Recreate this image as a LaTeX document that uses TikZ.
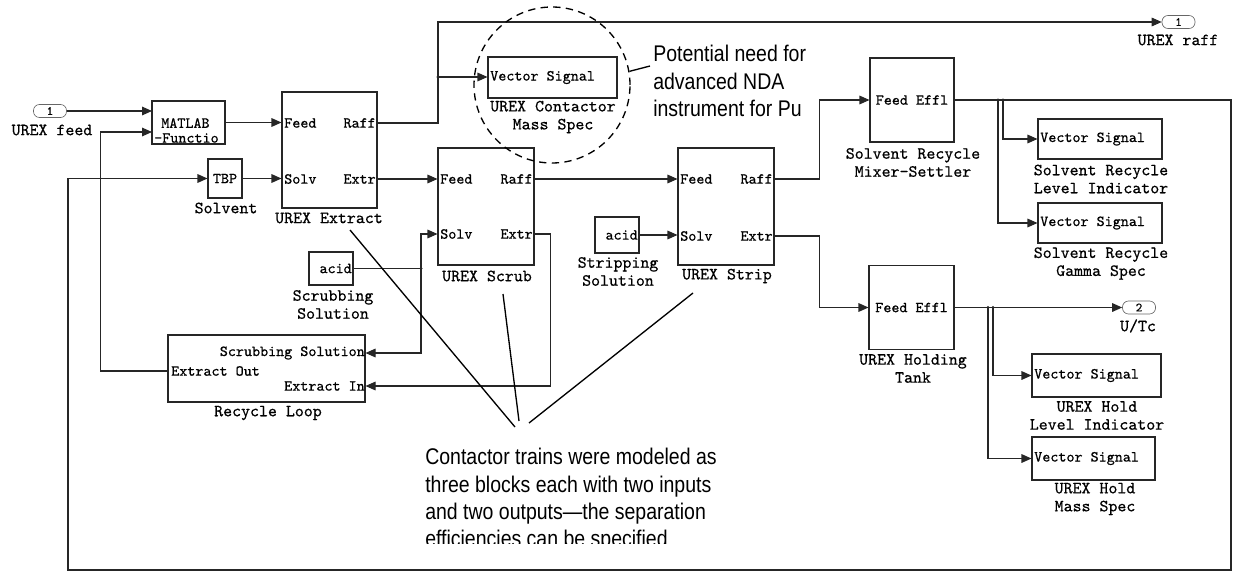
\documentclass[tikz,border=0pt]{standalone}
\usepackage{fontspec}
\newfontfamily\notefont[FakeStretch=0.86]{Liberation Sans}
\newfontfamily\blkfont{lmmono10-regular.otf}[FakeBold=0.6]
\usetikzlibrary{arrows.meta}

\tikzset{
  blk/.style={draw=black!85, line width=0.8pt, inner sep=0pt},
  bsize/.style 2 args={minimum width=#1*0.75pt, minimum height=#2*0.75pt},
  sig/.style={draw=black!85, line width=0.8pt, -{Triangle[length=7.5pt,width=6.5pt]}},
  wire/.style={draw=black!85, line width=0.8pt},
  plbl/.style={font=\blkfont\fontsize{11.5}{12}\selectfont, inner sep=0pt},
  lbl/.style={font=\blkfont\fontsize{12.8}{13.5}\selectfont, align=center, inner sep=0pt},
  ioport/.style={draw=black!60, line width=0.5pt, rounded corners=4.5pt, minimum width=24.75pt,
    minimum height=9.75pt, inner sep=0pt, font=\blkfont\fontsize{9.5}{9.5}\selectfont},
  note/.style={font=\notefont\fontsize{17}{20.5}\selectfont, align=left, inner sep=0pt},
  callout/.style={line width=1pt}
}

\begin{document}
\begin{tikzpicture}[x=0.75pt, y=-0.75pt]
\useasboundingbox (0,0) rectangle (1238,571);

        % ports
        \node[ioport] (in1)  at (50,111)     {1};
        \node[ioport] (out1) at (1178.5,22)  {1};
        \node[ioport] (out2) at (1139,307.5) {2};
        \node[lbl] (in1lbl)  at (52,130)   {UREX feed};
        \node[lbl] (out1lbl) at (1178,40)  {UREX raff};
        \node[lbl] (out2lbl) at (1138,326) {U/Tc};

        % blocks
        \node[blk, bsize={73}{43}]   (matlab) at (188.5,122.5) {};
        \node[blk, bsize={34}{39}]   (tbp)    at (225,178.5)   {};
        \node[blk, bsize={95}{116}]  (ext)    at (329.5,150)   {};
        \node[blk, bsize={96}{117}]  (scrub)  at (486,206.5)   {};
        \node[blk, bsize={44}{33}]   (acidA)  at (331,268.5)   {};
        \node[blk, bsize={197}{67}]  (recyc)  at (266.5,368.5) {};
        \node[blk, bsize={129}{41}]  (cms)    at (552.5,77.5)  {};
        \node[blk, bsize={96}{117}]  (strip)  at (726,206.5)   {};
        \node[blk, bsize={44}{36}]   (acidB)  at (617,235)     {};
        \node[blk, bsize={84}{84}]   (mixer)  at (912,100)     {};
        \node[blk, bsize={124}{40}]  (srli)   at (1100,139)    {};
        \node[blk, bsize={124}{40}]  (srgs)   at (1100,223)    {};
        \node[blk, bsize={85}{84}]   (hold)   at (911.5,307.5) {};
        \node[blk, bsize={129}{43}]  (hli)    at (1096.5,375.5) {};
        \node[blk, bsize={123}{43}]  (hms)    at (1093.5,458.5) {};

        % text inside blocks
        \node[plbl, anchor=west] (mltop) at (161,123) {MATLAB};
        \node[plbl, anchor=west] (mlbot) at (154,138) {-Functio};
        \node[plbl] (tbptxt) at (225,178.5) {TBP};
        \node[plbl, anchor=west] (extfeed)   at (284,123) {Feed};
        \node[plbl, anchor=west] (extsolv)   at (284,179) {Solv};
        \node[plbl, anchor=east] (extraff)   at (376,123) {Raff};
        \node[plbl, anchor=east] (extextr)   at (376,179) {Extr};
        \node[plbl, anchor=west] (scrubfeed) at (440,179) {Feed};
        \node[plbl, anchor=west] (scrubsolv) at (440,234) {Solv};
        \node[plbl, anchor=east] (scrubraff) at (533,179) {Raff};
        \node[plbl, anchor=east] (scrubextr) at (533,234) {Extr};
        \node[plbl, anchor=west] (stripfeed) at (680,179) {Feed};
        \node[plbl, anchor=west] (stripsolv) at (680,236) {Solv};
        \node[plbl, anchor=east] (stripraff) at (773,179) {Raff};
        \node[plbl, anchor=east] (stripextr) at (773,236) {Extr};
        \node[plbl, anchor=east] (acidAtxt)  at (352,268.5) {acid};
        \node[plbl, anchor=east] (acidBtxt)  at (638,235) {acid};
        \node[plbl, anchor=east] (rlscrub)   at (365,353) {Scrubbing Solution};
        \node[plbl, anchor=west] (rlout)     at (171,371) {Extract Out};
        \node[plbl, anchor=east] (rlin)      at (365,386) {Extract In};
        \node[plbl] (mixertxt) at (912,100)   {Feed Effl};
        \node[plbl] (holdtxt)  at (911.5,307.5) {Feed Effl};
        \node[plbl, anchor=west] (cmstxt)  at (490,77.5)  {Vector Signal};
        \node[plbl, anchor=west] (srlitxt) at (1040,139)  {Vector Signal};
        \node[plbl, anchor=west] (srgstxt) at (1040,223)  {Vector Signal};
        \node[plbl, anchor=west] (hlitxt)  at (1034,375.5) {Vector Signal};
        \node[plbl, anchor=west] (hmstxt)  at (1034,458.5) {Vector Signal};

        % block names
        \node[lbl] (tbplbl)   at (226,208)    {Solvent};
        \node[lbl] (extlbl)   at (329,218)    {UREX Extract};
        \node[lbl] (scrublbl) at (487,276)    {UREX Scrub};
        \node[lbl] (acidAlbl) at (333,304.5)  {Scrubbing\\Solution};
        \node[lbl] (recyclbl) at (268,413)    {Recycle Loop};
        \node[lbl] (cmslbl)   at (553,117)    {UREX Contactor\\Mass Spec};
        \node[lbl] (acidBlbl) at (618,271.5)  {Stripping\\Solution};
        \node[lbl] (striplbl) at (727,276)    {UREX Strip};
        \node[lbl] (mixerlbl) at (913,162.5)  {Solvent Recycle\\Mixer-Settler};
        \node[lbl] (srlilbl)  at (1101,179)   {Solvent Recycle\\Level Indicator};
        \node[lbl] (srgslbl)  at (1101,263.5) {Solvent Recycle\\Gamma Spec};
        \node[lbl] (holdlbl)  at (913,368.5)  {UREX Holding\\Tank};
        \node[lbl] (hlilbl)   at (1097,415.5) {UREX Hold\\Level Indicator};
        \node[lbl] (hmslbl)   at (1095,499)   {UREX Hold\\Mass Spec};

        % branch points and bends
        \coordinate (mlin1) at (152,111);
        \coordinate (mlin2) at (152,132);
        \coordinate (j1) at (438,77);
        \coordinate (j2) at (421,268.5);
        \coordinate (j3) at (998,100);
        \coordinate (j4) at (1003,100);
        \coordinate (j5) at (993,307.5);
        \coordinate (j6) at (988,307.5);
        \coordinate (loopSE) at (1231,570);
        \coordinate (loopSW) at (68,570);

        % signals
        \draw[sig] (in1.east) -- (mlin1);
        \draw[sig] (matlab.east) -- (ext.west |- matlab.east);
        \draw[sig] (tbp.east) -- (ext.west |- tbp.east);
        \draw[wire] (ext.east |- extraff) -| (j1);
        \draw[sig] (j1) |- (out1.west);
        \draw[sig] (j1) -- (cms.west |- j1);
        \draw[sig] (ext.east |- extextr) -- (scrub.west |- extextr);
        \draw[wire] (acidA.east) -- (j2);
        \draw[sig] (j2) |- (scrub.west |- scrubsolv);
        \draw[sig] (j2) |- (recyc.east |- rlscrub);
        \draw[sig] (scrub.east |- scrubextr) -- ++(16,0) |- (recyc.east |- rlin);
        \draw[sig] (recyc.west |- rlout) -- ++(-67,0) |- (mlin2);
        \draw[sig] (scrub.east |- scrubraff) -- (strip.west |- scrubraff);
        \draw[sig] (acidB.east) -- (strip.west |- acidB.east);
        \draw[sig] (strip.east |- stripraff) -- ++(45,0) |- (mixer.west);
        \draw[sig] (strip.east |- stripextr) -- ++(45,0) |- (hold.west);
        \draw[sig] (mixer.east) -| (loopSE) -- (loopSW) |- (tbp.west);
        \draw[sig] (j4) |- (srli.west);
        \draw[sig] (j3) |- (srgs.west);
        \draw[sig] (hold.east) -- (out2.west);
        \draw[sig] (j5) |- (hli.west);
        \draw[sig] (j6) |- (hms.west);
        \foreach \j in {j1,j2,j3,j4,j5,j6}
          \fill[black!85] (\j) circle (1.2pt);

        % notes
        \node[draw, dashed, circle, line width=1pt, dash pattern=on 5.5pt off 4pt,
              minimum size=117pt, inner sep=0pt] (ring) at (552,85) {};
        \node[note, anchor=north west] (need) at (653,45)
          {Potential need for\\advanced NDA\\instrument for Pu};
        \coordinate (needtip) at (650,66);
        \draw[callout] (ring.10) -- (needtip);

        \begin{scope}
          \clip (400,430) rectangle (780,543);
          \node[note, anchor=north west] (trains) at (425,448)
            {Contactor trains were modeled as\\three blocks each with two inputs\\and two outputs—the separation\\efficiencies can be specified};
        \end{scope}
        \coordinate (ptrA) at (350,230);
        \coordinate (ptrB) at (503,294);
        \coordinate (ptrC) at (693,293);
        \coordinate (tipA) at (515,427);
        \coordinate (tipB) at (519,421);
        \coordinate (tipC) at (529,423);
        \draw[callout] (ptrA) -- (tipA);
        \draw[callout] (ptrB) -- (tipB);
        \draw[callout] (ptrC) -- (tipC);
\end{tikzpicture}
\end{document}
